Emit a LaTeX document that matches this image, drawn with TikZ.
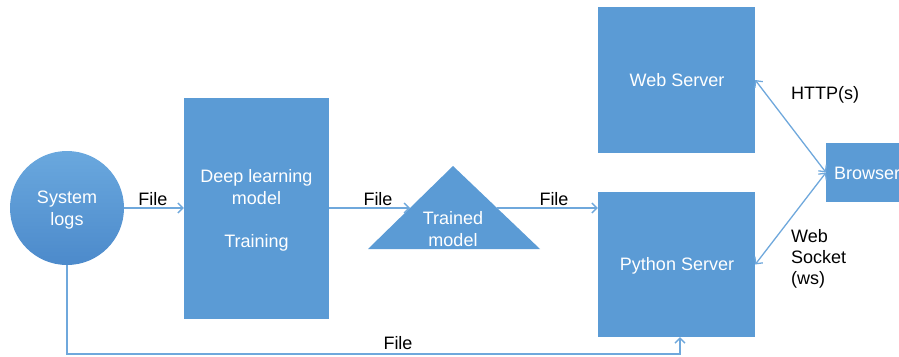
\documentclass[tikz,border=0pt]{standalone}
\usepackage{fontspec}
\setmainfont{Liberation Sans}
\usetikzlibrary{arrows.meta}
\definecolor{boxblue}{HTML}{5B9BD5}
\definecolor{lineblue}{HTML}{6FA8DC}
\definecolor{circtop}{HTML}{6AA8DE}
\definecolor{circbot}{HTML}{4C8ACB}

\begin{document}
\begin{tikzpicture}[x=1pt, y=-1pt,
  font=\fontsize{18}{22}\selectfont,
  box/.style={fill=boxblue, draw=none, inner sep=0pt},
  intext/.style={text=white, align=center, inner sep=0pt},
  conn/.style={draw=lineblue, line width=1.3pt, -{Straight Barb[length=5pt,width=10pt,line width=1.3pt]}},
  bothconn/.style={conn, {Straight Barb[length=5pt,width=10pt,line width=1.3pt]}-{Straight Barb[length=5pt,width=10pt,line width=1.3pt]}},
  lbl/.style={text=black, inner sep=0pt}]
\useasboundingbox (0,0) rectangle (899,356);
\clip (0,0) rectangle (899,356);

% source of the logs
\node[circle, minimum size=114pt, top color=circtop, bottom color=circbot,
      inner sep=0pt] (sys) at (67,208) {};
\node[intext] (systext) at (67,210) {System\\logs};

% training block
\node[box, minimum width=145pt, minimum height=221pt] (dl) at (256.5,208.5) {};
\node[intext] (dltext) at (256.5,210) {Deep learning\\model\\[21pt]Training};

% trained model triangle
\fill[boxblue] (368,249) -- (453,166) -- (540,249) -- cycle;
\node[intext] (tm) at (453,229.5) {Trained\\model};
\coordinate (tmL) at (410,208);
\coordinate (tmR) at (497,208);

% servers
\node[box, minimum width=157pt, minimum height=146pt] (web) at (676.5,80) {};
\node[intext] (webtext) at (677,80) {Web Server};
\node[box, minimum width=157pt, minimum height=145pt] (py) at (676.5,264.5) {};
\node[intext] (pytext) at (677,266) {Python Server};
\node[box, minimum width=110pt, minimum height=59pt, anchor=west] (br) at (826,172.5) {};
\node[intext, anchor=west] (brtext) at (834,173) {Browser};

% data flow
\draw[conn] (sys.east) -- (dl.west |- sys.east);
\draw[conn] (dl.east |- tmL) -- (tmL);
\draw[conn] (tmR) -- (tmR -| py.west);
\draw[bothconn] (web.east) -- (br.west);
\draw[bothconn] (py.east) -- (br.west);
\coordinate (low) at (67,354);
\draw[conn] (sys.south) -- (low) -| ([xshift=3.5pt]py.south);

% connector labels
\node[lbl] (f1) at (153,199) {File};
\node[lbl] (f2) at (378,199) {File};
\node[lbl] (f3) at (554,199) {File};
\node[lbl] (f4) at (398,343) {File};
\node[lbl] (http) at (825,95) {HTTP(s)};
\node[lbl, align=left, anchor=north west, font=\fontsize{18}{21}\selectfont] (ws) at (791,229) {Web\\Socket\\(ws)};
\end{tikzpicture}
\end{document}
